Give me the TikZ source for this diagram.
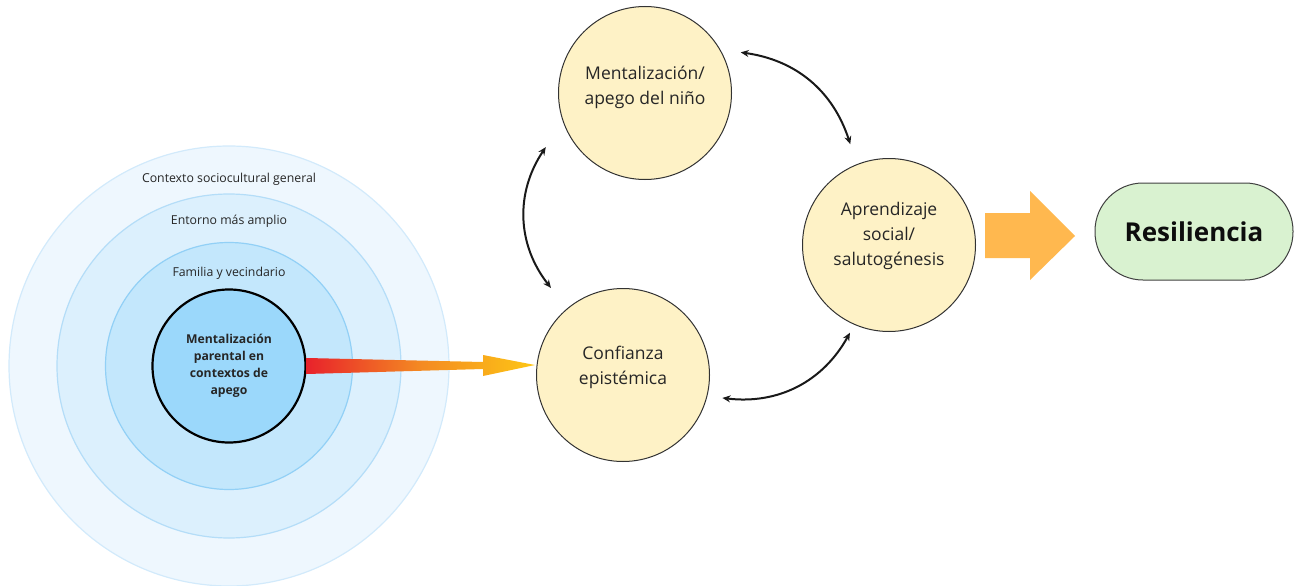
\documentclass[tikz,border=0pt]{standalone}
\usepackage{fontspec}
\setmainfont{Open Sans}
\usetikzlibrary{arrows.meta,calc}
\definecolor{ringA}{HTML}{EEF7FE}
\definecolor{ringAb}{HTML}{D2EAFB}
\definecolor{ringB}{HTML}{DCF0FD}
\definecolor{ringBb}{HTML}{B4DDF8}
\definecolor{ringC}{HTML}{C3E7FC}
\definecolor{ringCb}{HTML}{92D0F6}
\definecolor{coreB}{HTML}{9BD8FB}
\definecolor{yel}{HTML}{FEF2C6}
\definecolor{grn}{HTML}{D9F2D0}
\definecolor{org}{HTML}{FFB84F}
\definecolor{redA}{HTML}{E8222B}
\definecolor{orgB}{HTML}{F48A22}
\definecolor{yelB}{HTML}{FDC615}
\definecolor{txt}{HTML}{262626}
\tikzset{
  ring/.style={circle, inner sep=0pt, line width=1.2pt},
  ylw/.style={circle, fill=yel, draw=black!80, line width=1pt, minimum size=173pt, inner sep=0pt},
  ytext/.style={align=center, text=txt, font=\fontsize{17.5}{25}\selectfont},
  lbl/.style={text=txt, font=\fontsize{12.3}{14}\selectfont},
  dbl/.style={{Stealth[length=8pt,width=7pt]}-{Stealth[length=8pt,width=7pt]}, line width=2pt, black!90},
}
\begin{document}
\begin{tikzpicture}[x=1pt,y=1pt]
\useasboundingbox (0,0) rectangle (1294,-586);
% concentric rings
\node[ring, fill=ringA, draw=ringAb, minimum size=440pt] (r1) at (229,-366) {};
\node[ring, fill=ringB, draw=ringBb, minimum size=344pt] (r2) at (229,-366) {};
\node[ring, fill=ringC, draw=ringCb, minimum size=247pt] (r3) at (229,-366) {};
\node[circle, fill=coreB, draw=black, line width=2.2pt, minimum size=153pt, inner sep=0pt,
      align=center, text=txt, font=\bfseries\fontsize{12.2}{17}\selectfont] (core) at (229,-366)
      {Mentalización\\parental en\\contextos de\\apego};
\node[lbl] (l1) at (229,-179) {Contexto sociocultural general};
\node[lbl] (l2) at (229,-221) {Entorno más amplio};
\node[lbl] (l3) at (229,-273) {Familia y vecindario};
% yellow circles
\node[ylw] (ment) at (645,-93) {};
\node[ylw] (conf) at (623,-375) {};
\node[ylw] (apre) at (889,-245) {};
\node[ytext] at ($(ment)+(0,6)$) {Mentalización/\\apego del niño};
\node[ytext] at ($(conf)+(0,8)$) {Confianza\\epistémica};
\node[ytext] at ($(apre)+(0,9)$) {Aprendizaje\\social/\\salutogénesis};
% gradient arrow from core to conf
\shade[left color=redA, right color=yelB, middle color=orgB, shading angle=90]
  (core.east |- 0,-358) -- (483,-362) -- (483,-355) -- ($(conf.west)+(-1,10)$) -- (483,-376) -- (483,-369) -- (core.east |- 0,-374) -- cycle;
% curved double arrows
\draw[dbl] ($(ment)+(23:104)$) to[bend left=32] ($(apre)+(111:108)$);
\draw[dbl] ($(ment)+(208.6:113)$) to[bend right=36] ($(conf)+(129.6:113)$);
\draw[dbl] ($(conf)+(-13:102)$) to[bend right=34] ($(apre)+(246:96)$);
% resilience
\node[draw=black!75, fill=grn, line width=1pt, rounded corners=48pt, minimum width=198pt, minimum height=97pt,
      text=black!95, font=\bfseries\fontsize{26}{30}\selectfont] (res) at (1194,-231.5) {Resiliencia};
% big orange arrow
\fill[org] (985,-213) -- (1030,-213) -- (1030,-191) -- (1075,-236) -- (1030,-280) -- (1030,-258) -- (985,-258) -- cycle;
\end{tikzpicture}
\end{document}
